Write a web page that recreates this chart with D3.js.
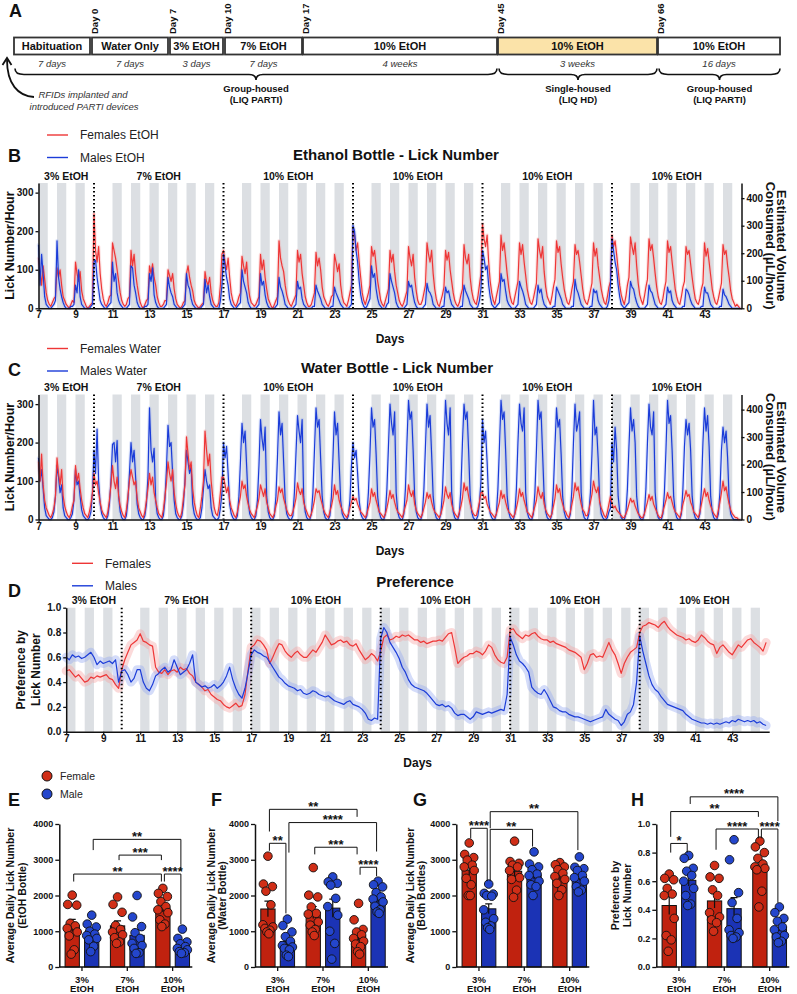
<!DOCTYPE html>
<html><head><meta charset="utf-8">
<script src="https://cdn.jsdelivr.net/npm/d3@7"></script>
<style>
body{margin:0;background:#fff;}
svg{display:block;font-family:"Liberation Sans",Arial,Helvetica,sans-serif;}
</style></head><body>
<svg id="fig" width="797" height="994"></svg>
<script>
// ---------------- DATA ----------------
const stageNames = ["Habituation","Water Only","3% EtOH","7% EtOH","10% EtOH","10% EtOH","10% EtOH"];
const stageDurations = ["7 days","7 days","3 days","7 days","4 weeks","3 weeks","16 days"];
const dayMarkers = ["Day 0","Day 7","Day 10","Day 17","Day 45","Day 66"];
const housingLines = [["Group-housed","(LIQ PARTI)"],["Single-housed","(LIQ HD)"],["Group-housed","(LIQ PARTI)"]];

const phaseLabels = ["3% EtOH","7% EtOH","10% EtOH","10% EtOH","10% EtOH","10% EtOH"];
const phaseStarts = [7,10,17,24,31,38,45];
const switchDays = [10,17,24,31,38];
const darkDays = [7,8,9,10,11,12,13,14,15,16,17,18,19,20,21,22,23,24,25,26,27,28,29,30,31,32,33,34,35,36,37,38,39,40,41,42,43,44];
const dayTicks = [7,9,11,13,15,17,19,21,23,25,27,29,31,33,35,37,39,41,43];

// Ethanol bottle licks/hour, 2-h bins (12 per day), days 7-45
const etohFemales = [
130,95,60,110,75,40,20,10,5,15,25,30,
105,80,100,60,30,20,10,5,0,10,20,15,
120,90,70,95,45,25,15,5,0,5,10,15,
245,150,120,160,90,50,25,10,5,15,30,35,
170,150,130,100,70,40,20,10,5,10,25,30,
150,110,140,90,60,35,15,5,0,10,20,25,
110,90,115,80,60,30,15,5,5,10,20,20,
100,85,70,90,50,25,10,5,0,5,15,20,
90,110,80,60,45,20,10,5,0,5,10,15,
95,70,60,80,40,20,10,5,5,15,60,140,
150,120,100,130,80,40,20,10,5,15,30,40,
135,110,90,120,60,30,15,10,5,10,20,30,
140,100,125,80,50,25,15,5,0,10,20,30,
175,130,110,95,60,35,20,10,5,15,25,35,
150,120,140,90,60,30,15,5,5,10,25,40,
145,110,130,100,55,30,20,10,5,15,30,35,
140,120,95,115,60,30,15,10,5,20,40,60,
210,190,150,170,120,80,40,20,10,25,40,60,
160,135,150,110,70,45,20,10,5,20,35,50,
150,120,140,95,60,40,20,10,5,15,30,45,
160,130,110,140,80,45,20,10,10,20,40,60,
170,140,120,150,90,50,25,10,5,20,35,55,
150,125,145,100,70,40,20,10,5,15,35,50,
165,130,115,140,80,45,25,15,10,30,60,90,
220,180,160,190,120,70,40,20,10,30,50,70,
190,150,170,130,90,55,30,15,10,30,50,70,
170,140,165,120,85,50,30,15,10,25,45,65,
180,150,130,160,95,55,30,20,10,30,55,75,
175,145,160,115,80,50,30,15,10,25,50,70,
165,140,150,120,85,50,25,15,10,25,45,65,
170,135,155,110,80,50,30,15,10,30,55,70,
190,160,175,140,100,60,35,20,10,30,60,80,
185,160,140,170,110,65,35,20,10,30,55,75,
180,150,165,130,90,55,30,15,10,25,50,70,
175,145,160,120,85,50,30,15,10,30,55,70,
160,140,150,115,80,50,25,15,10,25,50,65,
170,135,155,120,85,50,30,15,10,25,45,65,
165,140,150,110,80,45,25,15,5,10,5,0
];
const etohMales = [
165,60,140,90,30,10,5,0,0,5,10,20,
175,80,50,30,15,5,0,0,0,5,5,10,
60,40,100,30,10,5,0,0,0,0,5,10,
120,125,80,50,20,10,5,0,0,5,10,15,
120,70,90,40,20,10,5,0,0,0,5,10,
110,105,60,40,15,5,0,0,0,5,5,10,
90,70,105,35,15,5,0,0,0,0,5,10,
80,55,40,30,10,5,0,0,0,0,5,10,
90,60,50,25,10,5,0,0,0,0,5,10,
75,40,60,30,10,5,0,0,0,0,20,60,
140,110,80,60,25,10,5,0,0,5,10,15,
100,70,55,40,15,5,0,0,0,0,5,10,
90,60,70,35,15,5,0,0,0,0,5,10,
80,55,45,30,10,5,0,0,0,0,5,10,
70,50,55,25,10,5,0,0,0,0,5,5,
60,45,35,25,10,5,0,0,0,0,5,5,
55,40,30,20,10,5,0,0,0,0,5,10,
215,200,150,120,70,35,15,5,0,5,15,25,
110,80,90,50,25,10,5,0,0,0,10,15,
90,70,55,40,15,5,0,0,0,0,5,10,
70,55,60,35,15,5,0,0,0,0,5,10,
65,45,40,30,10,5,0,0,0,0,5,5,
55,40,45,25,10,5,0,0,0,0,5,5,
60,45,35,25,10,5,0,0,0,5,20,50,
150,130,100,110,60,30,10,5,0,5,10,15,
90,70,75,45,20,10,5,0,0,0,5,10,
70,55,45,30,10,5,0,0,0,0,5,10,
60,40,50,25,10,5,0,0,0,0,5,5,
55,45,35,25,10,5,0,0,0,0,5,5,
75,50,40,25,10,5,0,0,0,0,5,5,
50,40,45,20,10,5,0,0,0,5,20,60,
180,150,120,100,60,30,10,5,0,5,10,15,
70,55,50,30,15,5,0,0,0,0,5,10,
60,45,40,25,10,5,0,0,0,0,5,10,
55,40,45,20,10,5,0,0,0,0,5,5,
50,45,35,20,10,5,0,0,0,0,5,5,
55,40,40,25,10,5,0,0,0,0,5,5,
50,35,30,20,10,5,0,0,0,0,0,0
];
// Water bottle licks/hour, 2-h bins
const waterFemales = [
150,100,170,90,50,30,20,10,5,15,30,60,
160,120,90,130,60,35,20,10,5,15,35,50,
140,100,120,80,50,30,15,10,5,20,40,70,
120,90,100,70,45,25,15,10,5,20,50,90,
140,100,80,110,60,35,20,10,5,25,60,100,
130,110,90,100,55,30,20,10,5,20,50,80,
120,90,110,70,50,30,15,10,5,25,60,95,
150,120,100,130,70,40,20,10,5,20,55,90,
215,170,130,150,80,45,25,10,5,30,60,100,
230,180,140,170,100,60,30,15,10,30,70,110,
110,90,70,85,50,30,20,10,5,20,40,60,
100,80,90,60,40,25,15,10,5,20,35,55,
90,75,60,80,45,30,15,10,5,15,35,50,
85,70,80,55,40,25,15,10,10,20,35,55,
95,75,65,80,45,30,20,10,5,15,30,50,
80,70,75,55,40,25,15,10,5,20,35,55,
90,65,75,50,35,25,15,10,5,15,30,45,
60,50,55,40,30,20,15,10,5,15,30,45,
80,60,70,50,35,20,15,10,5,15,30,50,
75,55,65,45,30,20,15,10,5,20,35,50,
90,70,60,75,40,25,15,10,5,15,30,45,
70,55,65,45,30,20,15,10,5,15,30,50,
85,65,55,70,40,25,15,10,5,20,35,55,
95,75,85,60,40,25,15,10,10,25,45,70,
70,55,60,40,30,20,15,10,5,15,30,45,
75,55,65,45,30,20,15,10,5,15,30,50,
80,60,70,50,35,20,15,10,5,20,35,50,
85,65,55,70,40,25,15,10,5,15,35,55,
90,70,80,55,40,25,20,10,5,20,40,60,
95,75,85,60,40,25,20,10,10,25,45,65,
100,80,70,85,45,30,20,10,5,20,40,60,
40,30,35,25,20,15,10,5,5,15,25,40,
55,45,50,35,25,15,10,5,5,15,30,45,
65,50,60,40,30,20,10,5,5,20,35,50,
70,55,60,45,30,20,15,10,5,20,40,55,
75,60,65,45,35,20,15,10,5,20,40,60,
80,60,70,50,35,25,15,10,5,25,45,70,
100,75,85,60,40,25,15,10,5,5,0,0
];
const waterMales = [
160,100,130,80,30,10,5,0,0,5,20,60,
140,110,70,90,30,10,5,0,0,5,15,50,
130,90,100,60,25,10,5,0,0,5,20,70,
180,120,235,100,40,15,5,0,0,10,40,100,
195,200,150,205,60,20,5,0,0,10,50,120,
200,150,180,110,40,15,5,0,0,10,40,110,
290,180,150,185,50,15,5,0,0,10,50,130,
245,190,200,120,50,15,5,0,0,10,40,100,
180,150,120,140,40,15,5,0,0,5,30,80,
130,100,80,90,30,10,5,0,0,5,30,70,
200,160,190,120,40,15,5,0,0,10,60,150,
250,200,230,140,50,15,5,0,0,10,50,140,
260,210,180,240,60,20,5,0,0,10,60,160,
280,220,250,150,50,15,5,0,0,10,70,170,
270,230,200,260,60,20,5,0,0,15,70,180,
290,240,260,160,60,20,5,0,0,10,60,160,
280,220,250,150,50,15,5,0,0,10,50,140,
200,160,180,120,50,15,5,0,0,10,70,170,
290,240,260,170,60,20,5,0,0,15,80,190,
300,250,220,280,70,20,5,0,0,15,80,200,
310,260,280,180,60,20,5,0,0,15,80,190,
300,240,270,170,60,20,5,0,0,15,70,180,
310,250,220,290,70,20,5,0,0,15,80,200,
300,260,280,180,60,20,5,0,0,10,40,100,
260,200,230,150,50,15,5,0,0,15,80,190,
310,260,280,180,60,20,5,0,0,15,80,200,
300,250,230,290,70,20,5,0,0,15,70,180,
310,260,280,170,60,20,5,0,0,15,80,190,
290,240,260,170,60,20,5,0,0,15,80,200,
300,230,250,280,70,20,5,0,0,15,70,170,
310,220,240,160,50,15,5,0,0,5,20,30,
200,150,240,180,60,20,5,0,0,15,80,190,
290,230,260,200,60,20,5,0,0,15,80,200,
300,240,220,280,70,20,5,0,0,15,70,180,
310,250,270,180,60,20,5,0,0,15,80,190,
260,220,250,180,60,20,5,0,0,15,80,200,
290,230,270,190,60,20,5,0,0,15,70,180,
240,200,230,160,50,15,5,0,0,0,0,0
];
// Preference by lick number, 4-h bins (6 per day)
const prefFemales = [
0.49,0.50,0.47,0.44,0.46,0.43, 0.40,0.41,0.44,0.43,0.45,0.44, 0.45,0.46,0.43,0.42,0.38,0.35,
0.50,0.58,0.64,0.70,0.72,0.74, 0.79,0.73,0.72,0.70,0.69,0.52, 0.48,0.47,0.50,0.46,0.49,0.50,
0.48,0.52,0.50,0.51,0.47,0.45, 0.40,0.38,0.36,0.33,0.34,0.30, 0.28,0.26,0.25,0.22,0.20,0.19,
0.21,0.23,0.20,0.21,0.30,0.50, 0.68,0.70,0.74,0.73,0.70,0.66, 0.55,0.60,0.66,0.71,0.70,0.65,
0.62,0.60,0.63,0.65,0.62,0.60, 0.60,0.63,0.66,0.64,0.68,0.72, 0.78,0.74,0.70,0.71,0.73,0.74,
0.72,0.73,0.70,0.69,0.71,0.66, 0.62,0.58,0.60,0.63,0.61,0.57, 0.65,0.76,0.78,0.74,0.75,0.77,
0.76,0.78,0.77,0.78,0.76,0.74, 0.74,0.72,0.73,0.71,0.72,0.73, 0.73,0.74,0.73,0.76,0.79,0.80,
0.68,0.55,0.58,0.60,0.61,0.63, 0.63,0.65,0.64,0.62,0.65,0.70, 0.68,0.62,0.58,0.56,0.55,0.60,
0.82,0.83,0.79,0.77,0.75,0.78, 0.77,0.79,0.80,0.77,0.75,0.74, 0.74,0.72,0.73,0.71,0.70,0.69,
0.68,0.66,0.65,0.64,0.62,0.60, 0.50,0.55,0.62,0.63,0.60,0.61, 0.60,0.66,0.72,0.66,0.62,0.55,
0.47,0.55,0.60,0.64,0.66,0.68, 0.80,0.85,0.86,0.88,0.87,0.86, 0.84,0.87,0.89,0.85,0.82,0.80,
0.78,0.77,0.76,0.74,0.75,0.73, 0.72,0.74,0.78,0.76,0.73,0.71, 0.70,0.63,0.68,0.70,0.67,0.64,
0.62,0.66,0.70,0.68,0.71,0.74, 0.75,0.72,0.70,0.68,0.65,0.72
];
const prefMales = [
0.60,0.58,0.62,0.60,0.61,0.59, 0.60,0.62,0.64,0.60,0.54,0.57, 0.55,0.56,0.57,0.55,0.58,0.40,
0.49,0.50,0.46,0.40,0.43,0.50, 0.50,0.40,0.35,0.33,0.38,0.45, 0.47,0.50,0.52,0.48,0.50,0.58,
0.52,0.46,0.48,0.50,0.55,0.62, 0.40,0.38,0.36,0.37,0.35,0.36, 0.38,0.35,0.37,0.40,0.45,0.52,
0.42,0.35,0.30,0.27,0.35,0.48, 0.62,0.66,0.64,0.63,0.61,0.60, 0.56,0.52,0.48,0.44,0.42,0.39,
0.37,0.36,0.35,0.33,0.34,0.31, 0.30,0.31,0.33,0.32,0.30,0.29, 0.28,0.29,0.27,0.25,0.24,0.23,
0.22,0.24,0.25,0.22,0.21,0.20, 0.18,0.15,0.10,0.09,0.11,0.10, 0.75,0.84,0.80,0.72,0.68,0.64,
0.59,0.52,0.48,0.42,0.38,0.36, 0.35,0.34,0.33,0.31,0.28,0.25, 0.22,0.21,0.22,0.20,0.21,0.19,
0.15,0.13,0.14,0.14,0.12,0.10, 0.12,0.16,0.15,0.14,0.15,0.16, 0.15,0.16,0.17,0.18,0.17,0.30,
0.76,0.70,0.62,0.57,0.55,0.52, 0.48,0.36,0.33,0.31,0.30,0.34, 0.30,0.25,0.20,0.19,0.17,0.16,
0.16,0.14,0.13,0.12,0.12,0.11, 0.10,0.09,0.08,0.09,0.10,0.11, 0.12,0.18,0.14,0.12,0.10,0.09,
0.05,0.08,0.14,0.16,0.22,0.40, 0.77,0.65,0.55,0.45,0.38,0.34, 0.32,0.28,0.25,0.22,0.21,0.20,
0.19,0.18,0.17,0.14,0.12,0.10, 0.09,0.08,0.07,0.07,0.06,0.07, 0.06,0.07,0.06,0.07,0.08,0.07,
0.09,0.08,0.10,0.09,0.08,0.09, 0.08,0.09,0.07,0.08,0.06,0.05
];

// Bar panels: per-animal values, [3%, 7%, 10%]
const concGroups = ["3%","7%","10%"];
const etohDailyF = [[2010,1750,1730,1220,1150,1080,980,870,480,360],[1960,1750,1530,1160,1050,980,900,820,700,660],[2200,2060,1970,1830,1690,1600,1520,1320,1200,1130]];
const etohDailyM = [[1450,1200,1120,1000,920,880,800,760,580,430],[2000,1400,1130,960,800,660,600,520,400,380],[1060,800,700,650,570,520,480,430,400,380]];
const waterDailyF = [[3100,2320,2250,2120,1740,1180,1120,1080,1030,980,930],[2780,2010,1960,1680,1480,1500,1260,1170,1050,980,880],[1780,1320,1050,980,900,800,720,640,570,430,360]];
const waterDailyM = [[1340,1160,980,850,720,600,520,480,330,290,560],[2520,2380,2340,2290,1920,1690,1450,1000,660,220],[2400,2300,2240,2080,1960,1900,1820,1700,1600,1540,1500]];
const bothDailyF = [[3470,3150,3060,2990,2850,2800,2700,2480,2300,2000,2000],[3520,2950,2900,2850,2800,2700,2500,2450,2150,1950],[2920,2860,2800,2720,2620,2530,2450,2340,2160,2000]];
const bothDailyM = [[2320,2060,2040,2000,1980,1600,1350,1250,1150,1100,1050],[3220,2880,2800,2720,2600,2560,2400,2300,2250,2000],[3080,2790,2750,2700,2560,2500,2400,2250,2150,2100]];
const prefDailyF = [[0.65,0.62,0.61,0.55,0.51,0.50,0.34,0.22,0.19,0.11],[0.71,0.63,0.62,0.54,0.50,0.38,0.35,0.33,0.31,0.25],[0.88,0.84,0.80,0.76,0.72,0.70,0.69,0.68,0.53,0.42]];
const prefDailyM = [[0.78,0.76,0.69,0.67,0.64,0.60,0.55,0.50,0.44,0.43],[0.89,0.75,0.52,0.45,0.34,0.26,0.24,0.22,0.21,0.20],[0.42,0.38,0.34,0.32,0.28,0.26,0.22,0.21,0.18,0.17]];
// significance: [group1, sex1, group2, sex2, bracket level, left leg end, right leg end, label]
const sigE = [["3%","M","10%","M",3570,3270,2700,"**"],["7%","F","10%","F",3130,2990,2990,"***"],["3%","F","10%","F",2600,2390,2390,"**"],["10%","F","10%","M",2600,2390,1200,"****"]];
const sigF = [["3%","F","10%","F",4410,3790,4200,"**"],["3%","M","10%","M",4040,3200,3230,"****"],["3%","F","3%","M",3460,3250,1500,"**"],["7%","F","10%","F",3350,3150,3150,"***"],["10%","F","10%","M",2790,2580,2540,"****"]];
const sigG = [["3%","M","10%","M",4345,3880,3270,"**"],["3%","F","3%","M",3880,3600,2400,"****"],["3%","M","7%","M",3850,2400,3370,"**"]];
const sigH = [["3%","M","10%","M",1.19,1.14,1.02,"****"],["3%","F","10%","F",1.087,0.91,1.05,"**"],["7%","F","10%","F",0.965,0.82,0.90,"****"],["10%","F","10%","M",0.965,0.90,0.45,"****"],["3%","F","3%","M",0.864,0.80,0.80,"*"]];

// ---------------- STYLE ----------------
const RED = "#ee3636", BLUE = "#1b3cd8", PINK = "#f5a3a3", LBLUE = "#93a8ef";
const BAR_F = "#c0220f", BAR_M = "#1b33b5", PT_F = "#d02e17", PT_M = "#2446cc";
const BAND = "#dcdfe3";

const svg = d3.select("#fig");
function T(x, y, s, size, o = {}) {
  return svg.append("text").attr("x", x).attr("y", y).attr("font-size", size)
    .attr("font-weight", o.w || "normal").attr("font-style", o.i ? "italic" : "normal")
    .attr("text-anchor", o.a || "start").attr("fill", o.c || "#111").text(s);
}
function RT(x, y, s, size, angle, o = {}) {
  return svg.append("text").attr("transform", `translate(${x},${y}) rotate(${angle})`)
    .attr("font-size", size).attr("font-weight", o.w || "bold").attr("text-anchor", o.a || "middle")
    .attr("fill", "#111").text(s);
}
function styleAxis(g, size) {
  g.select(".domain").attr("stroke", "#111").attr("stroke-width", 1.5);
  g.selectAll(".tick line").attr("stroke", "#111").attr("stroke-width", 1.3);
  g.selectAll(".tick text").attr("font-size", size).attr("font-weight", "bold").attr("fill", "#111")
    .attr("font-family", '"Liberation Sans",Arial,sans-serif');
}

// ---------------- PANEL A ----------------
const tlBoxes = [[14,90],[92,168],[170,223],[225,302],[303,497],[498,657],[658,780]];
T(9, 17, "A", 18, {w: "bold"});
tlBoxes.forEach((b, i) => {
  svg.append("rect").attr("x", b[0]).attr("y", 37.5).attr("width", b[1] - b[0]).attr("height", 17)
    .attr("fill", i === 5 ? "#fbe3a9" : "#fff").attr("stroke", "#333").attr("stroke-width", 1.8);
  T((b[0] + b[1]) / 2, 50.3, stageNames[i], 11, {w: "bold", a: "middle"});
  T((b[0] + b[1]) / 2, 66.5, stageDurations[i], 9.5, {i: true, a: "middle", c: "#333"});
});
dayMarkers.forEach((d, i) => {
  RT(tlBoxes[i + 1][0] + 3, 34, d, 9.5, -90, {a: "start"}).attr("dy", "0.35em");
});
function bracePath(x1, x2) {
  const xm = (x1 + x2) / 2, y0 = 68.5, ym = 74.5, yt = 80;
  return `M${x1},${y0}Q${x1},${ym} ${x1 + 9},${ym}L${xm - 7},${ym}Q${xm},${ym} ${xm},${yt}Q${xm},${ym} ${xm + 7},${ym}L${x2 - 9},${ym}Q${x2},${ym} ${x2},${y0}`;
}
const housingSpans = [[0, 4], [5, 5], [6, 6]];
housingSpans.forEach((sp, i) => {
  const x1 = tlBoxes[sp[0]][0] + 1, x2 = tlBoxes[sp[1]][1];
  svg.append("path").attr("d", bracePath(x1, x2)).attr("fill", "none").attr("stroke", "#111").attr("stroke-width", 1.6);
  const xm = (x1 + x2) / 2;
  T(xm, 91.5, housingLines[i][0], 9.5, {w: "bold", a: "middle"});
  T(xm, 103, housingLines[i][1], 9.5, {w: "bold", a: "middle"});
});
svg.append("path").attr("d", "M34,97 C18,96 7,84 7,60").attr("fill", "none").attr("stroke", "#111").attr("stroke-width", 1.8);
svg.append("path").attr("d", "M2.5,65 L7,58 L11.5,65").attr("fill", "none").attr("stroke", "#111").attr("stroke-width", 1.8);
T(83, 98, "RFIDs implanted and", 9.5, {i: true, a: "middle", c: "#333"});
T(84, 109.5, "introduced PARTI devices", 9.5, {i: true, a: "middle", c: "#333"});

// ---------------- TIME SERIES PANELS ----------------
function tsPanel(o) {
  const g = svg.append("g");
  const x = d3.scaleLinear().domain([7, 45]).range([o.x0, o.x0 + 703]);
  const y = d3.scaleLinear().domain(o.yDomain).range([o.yBot, o.yTop]);
  g.selectAll("rect.band").data(darkDays.filter(d => !o.skip.includes(d))).join("rect")
    .attr("x", d => x(d)).attr("width", d => x(d + 0.5) - x(d))
    .attr("y", o.yTop).attr("height", o.yBot - o.yTop).attr("fill", BAND);
  const mk = s => d3.line().x((v, i) => x(7 + i / s.perDay)).y(v => y(v));
  o.series.forEach(s => {
    g.append("path").attr("d", mk(s)(s.values)).attr("fill", "none").attr("stroke", s.halo)
      .attr("stroke-width", o.haloW).attr("stroke-linejoin", "round").attr("stroke-linecap", "round").attr("opacity", o.haloOp);
  });
  o.series.forEach(s => {
    g.append("path").attr("d", mk(s)(s.values)).attr("fill", "none").attr("stroke", s.color)
      .attr("stroke-width", 1.2).attr("stroke-linejoin", "round");
  });
  g.selectAll("line.sw").data(switchDays).join("line")
    .attr("x1", d => x(d)).attr("x2", d => x(d)).attr("y1", o.yTop).attr("y2", o.yBot)
    .attr("stroke", "#000").attr("stroke-width", 2).attr("stroke-dasharray", "1.6,2.4");
  const ya = g.append("g").attr("transform", `translate(${o.x0},0)`)
    .call(d3.axisLeft(y).tickValues(o.ticks).tickFormat(o.fmt).tickSize(3).tickSizeOuter(0).tickPadding(2));
  styleAxis(ya, 10);
  const xa = g.append("g").attr("transform", `translate(0,${o.yBot})`)
    .call(d3.axisBottom(x).tickValues(dayTicks).tickSize(3).tickSizeOuter(0).tickPadding(0));
  styleAxis(xa, 10);
  if (o.rightDomain) {
    const yr = d3.scaleLinear().domain(o.rightDomain).range([o.yBot, o.yTop]);
    const ra = g.append("g").attr("transform", `translate(${o.x0 + 703},0)`)
      .call(d3.axisRight(yr).tickValues([0, 100, 200, 300, 400]).tickSize(3).tickSizeOuter(0).tickPadding(2));
    styleAxis(ra, 10);
    const cy = (o.yTop + o.yBot) / 2;
    RT(777, cy, "Estimated Volume", 13, 90);
    RT(765.5, cy, "Consumed (\u03bcL/hour)", 13, 90);
  }
  phaseLabels.forEach((p, i) => {
    T(x((phaseStarts[i] + phaseStarts[i + 1]) / 2), o.yTop - 3.5, p, 10.5, {w: "bold", a: "middle"});
  });
  T(x(26), o.yBot + 35, "Days", 12, {w: "bold", a: "middle"});
  o.legend.forEach((l, i) => {
    const ly = o.legY + i * 22.5;
    g.append("line").attr("x1", o.legX).attr("x2", o.legX + 21).attr("y1", ly).attr("y2", ly)
      .attr("stroke", l[1]).attr("stroke-width", 1.4);
    T(o.legX + 33, ly + 4.3, l[0], 12, {c: "#222"});
  });
  T(8, o.letterY, o.letter, 18, {w: "bold"});
  T(o.titleX, o.titleY, o.title, 15, {w: "bold", a: "middle"});
  return {x, y};
}

tsPanel({
  x0: 38.5, yTop: 183, yBot: 308.3, yDomain: [0, 325], ticks: [0, 100, 200, 300], fmt: d3.format("d"),
  rightDomain: [0, 455], skip: [10, 17, 24, 31, 38], haloW: 3.5, haloOp: 0.3,
  series: [
    {values: etohFemales, perDay: 12, color: RED, halo: PINK},
    {values: etohMales, perDay: 12, color: BLUE, halo: LBLUE}
  ],
  legend: [["Females EtOH", RED], ["Males EtOH", BLUE]], legX: 47, legY: 135,
  letter: "B", letterY: 162, title: "Ethanol Bottle - Lick Number", titleX: 396, titleY: 159.5
});
RT(13.5, 245.6, "Lick Number/Hour", 12.5, -90);

tsPanel({
  x0: 38.5, yTop: 394.5, yBot: 519.5, yDomain: [0, 325], ticks: [0, 100, 200, 300], fmt: d3.format("d"),
  rightDomain: [0, 455], skip: [10, 17, 24, 31], haloW: 3.5, haloOp: 0.3,
  series: [
    {values: waterMales, perDay: 12, color: BLUE, halo: LBLUE},
    {values: waterFemales, perDay: 12, color: RED, halo: PINK}
  ],
  legend: [["Females Water", RED], ["Males Water", BLUE]], legX: 47, legY: 348.5,
  letter: "C", letterY: 376, title: "Water Bottle - Lick Number", titleX: 397, titleY: 373
});
RT(13.5, 457, "Lick Number/Hour", 12.5, -90);

tsPanel({
  x0: 66.2, yTop: 607.7, yBot: 731.7, yDomain: [0, 1], ticks: [0, 0.2, 0.4, 0.6, 0.8, 1.0], fmt: d3.format(".1f"),
  rightDomain: null, skip: [10], haloW: 9, haloOp: 0.4,
  series: [
    {values: prefFemales, perDay: 6, color: RED, halo: PINK},
    {values: prefMales, perDay: 6, color: BLUE, halo: LBLUE}
  ],
  legend: [["Females", RED], ["Males", BLUE]], legX: 72, legY: 563.3,
  letter: "D", letterY: 597, title: "Preference", titleX: 415, titleY: 586.5
});
RT(25.3, 669.7, "Preference by", 12, -90);
RT(40.3, 669.7, "Lick Number", 12, -90);

// ---------------- BAR PANELS ----------------
const jitter = [0, -4.5, 4.5, -2, 3, -5, 5, -3, 2, -1, 1];
function barPanel(o) {
  const g = svg.append("g");
  const x = d3.scalePoint().domain(concGroups).range([o.x0, o.x0 + 136]).padding(0.5);
  const y = d3.scaleLinear().domain([0, o.max]).range([967, 824]);
  const off = 9.75, bw = 14.3;
  const cx = (grp, sex) => x(grp) + (sex === "F" ? -off : off);
  const sets = [{vals: o.F, sex: "F", bar: BAR_F, pt: PT_F}, {vals: o.M, sex: "M", bar: BAR_M, pt: PT_M}];
  sets.forEach(s => {
    concGroups.forEach((grp, gi) => {
      const v = s.vals[gi], m = d3.mean(v), sem = d3.deviation(v) / Math.sqrt(v.length);
      const c = cx(grp, s.sex);
      g.append("rect").attr("x", c - bw / 2).attr("y", y(m)).attr("width", bw).attr("height", y(0) - y(m))
        .attr("fill", s.bar).attr("stroke", "#111").attr("stroke-width", 1);
      g.append("path").attr("d", `M${c},${y(m - sem)}V${y(m + sem)}M${c - 3.5},${y(m + sem)}H${c + 3.5}`)
        .attr("stroke", "#111").attr("stroke-width", 1.2).attr("fill", "none");
      const order = d3.range(v.length).sort((a, b) => v[b] - v[a]);
      order.forEach((idx, k) => {
        g.append("circle").attr("cx", c + jitter[k % jitter.length]).attr("cy", y(v[idx])).attr("r", 4.3)
          .attr("fill", s.pt).attr("stroke", "#111").attr("stroke-width", 0.9);
      });
    });
  });
  const ya = g.append("g").attr("transform", `translate(${o.x0},0)`)
    .call(d3.axisLeft(y).tickValues(o.ticks).tickFormat(o.fmt).tickSize(4).tickSizeOuter(0).tickPadding(2));
  styleAxis(ya, 9);
  g.append("line").attr("x1", o.x0).attr("x2", o.x0 + 133).attr("y1", 967).attr("y2", 967).attr("stroke", "#111").attr("stroke-width", 1.5);
  concGroups.forEach(grp => {
    g.append("line").attr("x1", x(grp)).attr("x2", x(grp)).attr("y1", 967).attr("y2", 971).attr("stroke", "#111").attr("stroke-width", 1.3);
    T(x(grp), 982.5, grp, 9.5, {w: "bold", a: "middle"});
    T(x(grp), 991.8, "EtOH", 9.5, {w: "bold", a: "middle"});
  });
  o.sig.forEach(b => {
    const xa = cx(b[0], b[1]) + 1.5, xb = cx(b[2], b[3]) - 1.5;
    g.append("path").attr("d", `M${xa},${y(b[5])}V${y(b[4])}H${xb}V${y(b[6])}`)
      .attr("fill", "none").attr("stroke", "#111").attr("stroke-width", 1);
    T((xa + xb) / 2, y(b[4]) + 1.5, b[7], 13, {w: "bold", a: "middle"});
  });
  T(o.letterX, 806, o.letter, 18, {w: "bold"});
  RT(o.lab1X, 895.5, o.lab1, 10.5, -90);
  RT(o.lab2X, 895.5, o.lab2, 10.5, -90);
}
const countFmt = d3.format("d");
barPanel({x0: 59.3, max: 4000, ticks: [0, 1000, 2000, 3000, 4000], fmt: countFmt, F: etohDailyF, M: etohDailyM, sig: sigE,
  letter: "E", letterX: 8, lab1: "Average Daily Lick Number", lab2: "(EtOH Bottle)", lab1X: 14.3, lab2X: 25.5});
barPanel({x0: 255, max: 4000, ticks: [0, 1000, 2000, 3000, 4000], fmt: countFmt, F: waterDailyF, M: waterDailyM, sig: sigF,
  letter: "F", letterX: 211, lab1: "Average Daily Lick Number", lab2: "(Water Bottle)", lab1X: 214.5, lab2X: 225.5});
barPanel({x0: 456.3, max: 4000, ticks: [0, 1000, 2000, 3000, 4000], fmt: countFmt, F: bothDailyF, M: bothDailyM, sig: sigG,
  letter: "G", letterX: 413, lab1: "Average Daily Lick Number", lab2: "(Both Bottles)", lab1X: 414, lab2X: 424.5});
barPanel({x0: 656.3, max: 1, ticks: [0, 0.2, 0.4, 0.6, 0.8, 1.0], fmt: d3.format(".1f"), F: prefDailyF, M: prefDailyM, sig: sigH,
  letter: "H", letterX: 631, lab1: "Preference by", lab2: "Lick Number", lab1X: 619, lab2X: 630.8});

[["Female", PT_F], ["Male", PT_M]].forEach((l, i) => {
  const ly = 776 + i * 18;
  svg.append("circle").attr("cx", 47).attr("cy", ly).attr("r", 5).attr("fill", l[1]).attr("stroke", "#111").attr("stroke-width", 1);
  T(60, ly + 3.8, l[0], 10.5, {c: "#222"});
});
</script></body></html>
